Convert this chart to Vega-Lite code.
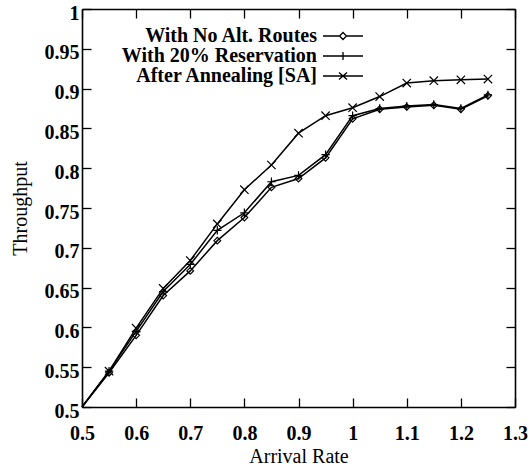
{
  "$schema": "https://vega.github.io/schema/vega-lite/v6.json",
  "width": 433,
  "height": 398,
  "autosize": {"type": "none"},
  "padding": {"left": 82, "top": 9, "right": 16, "bottom": 64},
  "background": "white",
  "config": {
    "view": {"stroke": null},
    "axis": {
      "grid": false,
      "domainColor": "black",
      "domainWidth": 1.6,
      "tickColor": "black",
      "tickWidth": 1.3,
      "tickSize": -9,
      "labelFont": "Liberation Serif",
      "labelFontWeight": 600,
      "labelFontSize": 20,
      "labelColor": "black",
      "titleFont": "Liberation Serif",
      "titleFontWeight": "normal",
      "titleFontSize": 20,
      "titleColor": "black"
    }
  },
  "data": {
    "values": [
      {"x": 0.5, "y": 0.5, "series": "With No Alt. Routes"},
      {"x": 0.55, "y": 0.543, "series": "With No Alt. Routes"},
      {"x": 0.6, "y": 0.59, "series": "With No Alt. Routes"},
      {"x": 0.65, "y": 0.64, "series": "With No Alt. Routes"},
      {"x": 0.7, "y": 0.671, "series": "With No Alt. Routes"},
      {"x": 0.75, "y": 0.709, "series": "With No Alt. Routes"},
      {"x": 0.8, "y": 0.738, "series": "With No Alt. Routes"},
      {"x": 0.85, "y": 0.776, "series": "With No Alt. Routes"},
      {"x": 0.9, "y": 0.787, "series": "With No Alt. Routes"},
      {"x": 0.95, "y": 0.813, "series": "With No Alt. Routes"},
      {"x": 1.0, "y": 0.862, "series": "With No Alt. Routes"},
      {"x": 1.05, "y": 0.874, "series": "With No Alt. Routes"},
      {"x": 1.1, "y": 0.877, "series": "With No Alt. Routes"},
      {"x": 1.15, "y": 0.879, "series": "With No Alt. Routes"},
      {"x": 1.2, "y": 0.874, "series": "With No Alt. Routes"},
      {"x": 1.25, "y": 0.891, "series": "With No Alt. Routes"},
      {"x": 0.5, "y": 0.5, "series": "With 20% Reservation"},
      {"x": 0.55, "y": 0.545, "series": "With 20% Reservation"},
      {"x": 0.6, "y": 0.595, "series": "With 20% Reservation"},
      {"x": 0.65, "y": 0.645, "series": "With 20% Reservation"},
      {"x": 0.7, "y": 0.679, "series": "With 20% Reservation"},
      {"x": 0.75, "y": 0.722, "series": "With 20% Reservation"},
      {"x": 0.8, "y": 0.744, "series": "With 20% Reservation"},
      {"x": 0.85, "y": 0.783, "series": "With 20% Reservation"},
      {"x": 0.9, "y": 0.791, "series": "With 20% Reservation"},
      {"x": 0.95, "y": 0.817, "series": "With 20% Reservation"},
      {"x": 1.0, "y": 0.866, "series": "With 20% Reservation"},
      {"x": 1.05, "y": 0.875, "series": "With 20% Reservation"},
      {"x": 1.1, "y": 0.878, "series": "With 20% Reservation"},
      {"x": 1.15, "y": 0.88, "series": "With 20% Reservation"},
      {"x": 1.2, "y": 0.875, "series": "With 20% Reservation"},
      {"x": 1.25, "y": 0.892, "series": "With 20% Reservation"},
      {"x": 0.5, "y": 0.5, "series": "After Annealing [SA]"},
      {"x": 0.55, "y": 0.545, "series": "After Annealing [SA]"},
      {"x": 0.6, "y": 0.599, "series": "After Annealing [SA]"},
      {"x": 0.65, "y": 0.649, "series": "After Annealing [SA]"},
      {"x": 0.7, "y": 0.684, "series": "After Annealing [SA]"},
      {"x": 0.75, "y": 0.73, "series": "After Annealing [SA]"},
      {"x": 0.8, "y": 0.773, "series": "After Annealing [SA]"},
      {"x": 0.85, "y": 0.804, "series": "After Annealing [SA]"},
      {"x": 0.9, "y": 0.844, "series": "After Annealing [SA]"},
      {"x": 0.95, "y": 0.866, "series": "After Annealing [SA]"},
      {"x": 1.0, "y": 0.876, "series": "After Annealing [SA]"},
      {"x": 1.05, "y": 0.89, "series": "After Annealing [SA]"},
      {"x": 1.1, "y": 0.907, "series": "After Annealing [SA]"},
      {"x": 1.15, "y": 0.91, "series": "After Annealing [SA]"},
      {"x": 1.2, "y": 0.911, "series": "After Annealing [SA]"},
      {"x": 1.25, "y": 0.912, "series": "After Annealing [SA]"}
    ]
  },
  "resolve": {"scale": {"shape": "independent"}, "axis": {"x": "independent", "y": "independent"}},
  "layer": [
    {
      "mark": {"type": "line", "color": "black", "strokeWidth": 1.5},
      "encoding": {
        "x": {"field": "x", "type": "quantitative", "scale": {"domain": [0.5, 1.3], "nice": false, "zero": false},
              "axis": {"title": "Arrival Rate", "values": [0.5, 0.6, 0.7, 0.8, 0.9, 1, 1.1, 1.2, 1.3], "format": "~g", "labelPadding": 25, "titlePadding": 3, "labelFlush": false, "labelOverlap": false}},
        "y": {"field": "y", "type": "quantitative", "scale": {"domain": [0.5, 1], "nice": false, "zero": false},
              "axis": {"title": "Throughput", "values": [0.5, 0.55, 0.6, 0.65, 0.7, 0.75, 0.8, 0.85, 0.9, 0.95, 1], "format": "~g", "labelPadding": 12, "labelOffset": 4, "titlePadding": 14, "labelFlush": false, "labelOverlap": false}},
        "detail": {"field": "series"}
      }
    },
    {
      "transform": [{"filter": "datum.x > 0.5"}],
      "mark": {"type": "point", "filled": false, "color": "black", "strokeWidth": 1.2, "size": 70, "opacity": 1},
      "encoding": {
        "x": {"field": "x", "type": "quantitative", "axis": null},
        "y": {"field": "y", "type": "quantitative", "axis": null},
        "shape": {"field": "series", "type": "nominal", "legend": null,
                  "scale": {"domain": ["With No Alt. Routes", "With 20% Reservation", "After Annealing [SA]"],
                            "range": ["M0,-0.8L0.8,0L0,0.8L-0.8,0Z", "M-1,0H1M0,-1V1", "M-1,-1L1,1M-1,1L1,-1"]}}
      }
    },
    {
      "transform": [{"filter": "datum.x > 99"}],
      "mark": {"type": "point", "filled": false, "color": "black", "strokeWidth": 1.3, "size": 100, "opacity": 1},
      "encoding": {
        "x": {"field": "x", "type": "quantitative", "axis": {"orient": "top", "labels": false, "title": null, "values": [0.5, 0.6, 0.7, 0.8, 0.9, 1, 1.1, 1.2, 1.3]}},
        "y": {"field": "y", "type": "quantitative", "axis": {"orient": "right", "labels": false, "title": null, "values": [0.5, 0.55, 0.6, 0.65, 0.7, 0.75, 0.8, 0.85, 0.9, 0.95, 1]}},
        "shape": {"field": "series", "type": "nominal",
                  "scale": {"domain": ["With No Alt. Routes", "With 20% Reservation", "After Annealing [SA]"],
                            "range": ["M-4,0H-0.7M0.7,0H4M0,-0.7L0.7,0L0,0.7L-0.7,0Z", "M-4,0H4M0,-0.8V0.8", "M-4,0H4M-0.8,-0.7L0.8,0.7M-0.8,0.7L0.8,-0.7"]},
                  "legend": {
                    "title": null,
                    "orient": "none",
                    "legendX": 251,
                    "legendY": 17,
                    "padding": 0,
                    "symbolSize": 100,
                    "symbolStrokeColor": "black",
                    "symbolStrokeWidth": 1.3,
                    "symbolFillColor": "white",
                    "symbolOpacity": 1,
                    "rowPadding": -4,
                    "labelAlign": "right",
                    "labelOffset": -36,
                    "labelFont": "Liberation Serif",
                    "labelFontWeight": 600,
                    "labelFontSize": 20,
                    "labelColor": "black",
                    "labelLimit": 400
                  }}
      }
    }
  ]
}
